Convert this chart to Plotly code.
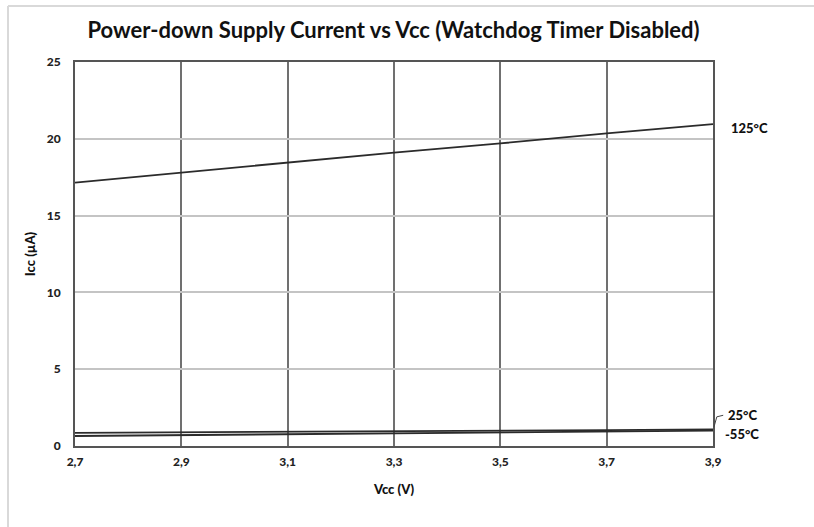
import plotly.graph_objects as go

# Supply voltage (V) and power-down supply current (uA) per temperature
vcc = [2.7, 2.9, 3.1, 3.3, 3.5, 3.7, 3.9]
icc_125c = [17.15, 17.8, 18.45, 19.1, 19.7, 20.35, 20.95]
icc_25c = [0.85, 0.88, 0.92, 0.96, 1.00, 1.04, 1.08]
icc_m55c = [0.65, 0.71, 0.77, 0.83, 0.89, 0.95, 1.00]

series_names = ["125°C", "25°C", "-55°C"]
x_ticks = [2.7, 2.9, 3.1, 3.3, 3.5, 3.7, 3.9]
x_tick_text = ["2,7", "2,9", "3,1", "3,3", "3,5", "3,7", "3,9"]
y_ticks = [0, 5, 10, 15, 20, 25]

FONT = "Lato"
LINE = "#2b2b2b"
BOLD = dict(family=FONT, size=12, color="#222", weight=900)

fig = go.Figure()
for name, ys in zip(series_names, [icc_125c, icc_25c, icc_m55c]):
    fig.add_trace(go.Scatter(x=vcc, y=ys, mode="lines", name=name,
                             line=dict(color=LINE, width=1.8), showlegend=False))

# Series labels to the right of the plot
label_pos = {"125°C": (1.025, 20.7), "25°C": (1.021, 2.02), "-55°C": (1.015, 0.78)}
for name, (lx, ly) in label_pos.items():
    fig.add_annotation(x=lx, y=ly, xref="paper", yref="y", text=name,
                       showarrow=False, xanchor="left", yanchor="middle",
                       font=dict(family=FONT, size=13, color="#111", weight=900))

# Leader line for the 25°C label
fig.add_shape(type="path", xref="paper", yref="y",
              path="M 1.0016 1.25 L 1.006 1.9 L 1.016 2.0",
              line=dict(color="#444", width=1))

# Outer light frame (top and left edges)
fig.add_shape(type="line", xref="paper", yref="paper",
              x0=-0.105, y0=1.146, x1=1.3, y1=1.146,
              line=dict(color="#d9d9d9", width=2))
fig.add_shape(type="line", xref="paper", yref="paper",
              x0=-0.105, y0=1.146, x1=-0.105, y1=-0.3,
              line=dict(color="#d9d9d9", width=2))

fig.update_layout(
    width=814, height=527,
    margin=dict(l=75, r=101, t=62, b=81),
    paper_bgcolor="white", plot_bgcolor="white",
    font=dict(family=FONT, color="#222"),
    title=dict(text="Power-down Supply Current vs Vcc (Watchdog Timer Disabled)",
               x=0.4835, xanchor="center", y=0.943, yanchor="middle",
               font=dict(family=FONT, size=22, color="#111", weight=700)),
    xaxis=dict(range=[2.7, 3.9], tickvals=x_ticks, ticktext=x_tick_text,
               showgrid=True, gridcolor="#707070", gridwidth=1.5,
               showline=True, linecolor="#555", linewidth=2, mirror=True,
               zeroline=False, ticks="", ticklabelstandoff=4,
               tickfont=BOLD,
               title=dict(text="Vcc (V)", standoff=16,
                          font=dict(family=FONT, size=13, color="#111", weight=900))),
    yaxis=dict(range=[0, 25], tickvals=y_ticks,
               showgrid=True, gridcolor="#c4c4c4", gridwidth=1.5,
               showline=True, linecolor="#555", linewidth=2, mirror=True,
               zeroline=False, ticks="", ticklabelstandoff=10,
               tickfont=BOLD,
               title=dict(text="Icc (µA)", standoff=8,
                          font=dict(family=FONT, size=13, color="#111", weight=900))),
)

fig.write_html("out.html")
